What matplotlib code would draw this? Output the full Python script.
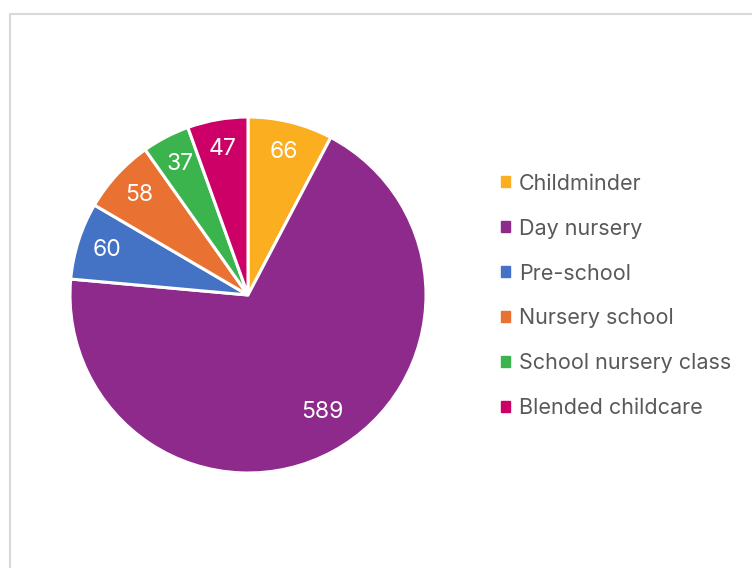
import matplotlib.pyplot as plt
from matplotlib.patches import Patch, Rectangle

# childcare setting counts
categories = ["Childminder", "Day nursery", "Pre-school", "Nursery school",
              "School nursery class", "Blended childcare"]
values = [66, 589, 60, 58, 37, 47]
colors = ["#FAAE20", "#8E2A8C", "#4472C4", "#E97132", "#3CB44E", "#CC0066"]

plt.rcParams['font.family'] = ['Inter', 'DejaVu Sans']

fig = plt.figure(figsize=(7.52, 5.68), dpi=100)

# light grey chart border (runs off right and bottom edges)
fig.patches.append(Rectangle((10 / 752, -0.1), 1.2, (568 - 14) / 568 + 0.1,
                             transform=fig.transFigure, fill=False,
                             edgecolor="#D9D9D9", linewidth=1.5))

ax = fig.add_axes([70 / 752, 95 / 568, 356 / 752, 356 / 568])
total = sum(values)
wedges, texts, autotexts = ax.pie(
    values, colors=colors, startangle=90, counterclock=False,
    autopct=lambda p: f"{round(p * total / 100)}", pctdistance=0.83,
    wedgeprops=dict(edgecolor="white", linewidth=2.2),
    textprops=dict(color="white", fontsize=16.5))
ax.set_xlim(-1, 1)
ax.set_ylim(-1, 1)
ax.set_aspect("equal")
# excel-style placement of the big slice label
autotexts[1].set_position((0.42, -0.66))

handles = [Patch(facecolor=c, edgecolor=c) for c in colors]
fig.legend(handles, categories, loc="center left",
           bbox_to_anchor=(482 / 752, 1 - 296 / 568), frameon=False,
           fontsize=15.5, labelcolor="#595959", handlelength=0.42,
           handleheight=0.42, handletextpad=0.4, labelspacing=1.16)

fig.savefig("out.png", dpi=100)
